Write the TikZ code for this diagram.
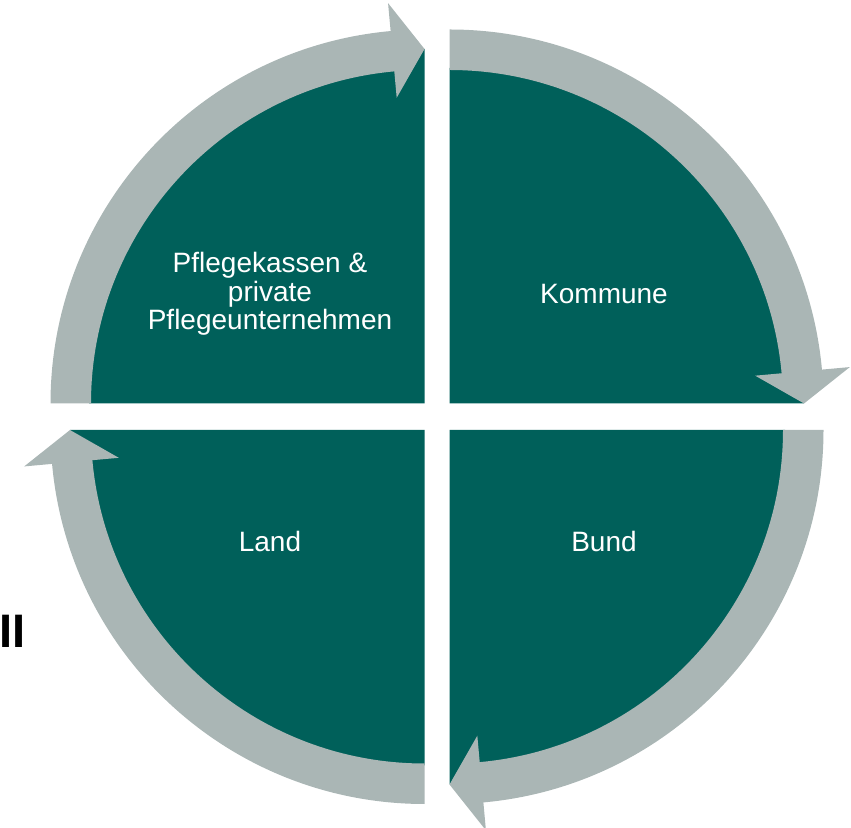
\documentclass[tikz,border=0pt]{standalone}
\usepackage{fontspec}
\setmainfont{Liberation Sans}
\usepackage{tikz}
\definecolor{sectorgreen}{RGB}{0,96,90}
\definecolor{arrowgrey}{RGB}{170,182,181}

\begin{document}
\begin{tikzpicture}[x=1pt,y=1pt,
  quarter/.style={fill=sectorgreen},
  cyclearrow/.style={fill=arrowgrey},
  sectortext/.style={text=white,align=center,inner sep=0pt,
    font=\fontsize{28}{28.5}\selectfont}]
  \useasboundingbox (0,0) rectangle (851,827);
  \def\rin{333.5}
  \def\rout{374}
  \def\rhin{307}
  \def\rhout{402}
  \def\rtip{354.5}
  \def\d{5.2}
  \foreach \cx/\cy/\a in {424.5/423.5/180, 449.5/423.5/90, 449.5/397/0, 424.5/397/270} {
    \begin{scope}[shift={(\cx,\cy)}]
      \fill[quarter] (0,0) -- (\a:\rin+2)
        arc[start angle=\a, delta angle=-90+\d, radius=\rin+2]
        -- (\a-90:\rtip) -- cycle;
      \fill[cyclearrow] (\a:\rin)
        arc[start angle=\a, delta angle=-90+\d, radius=\rin]
        -- (\a-90+\d:\rhin) -- (\a-90:\rtip) -- (\a-90+\d:\rhout)
        -- (\a-90+\d:\rout)
        arc[start angle=\a-90+\d, delta angle=90-\d, radius=\rout] -- cycle;
    \end{scope}
  }
  \node[sectortext] (pflege) at (270,533) {Pflegekassen \&\\private\\Pflegeunternehmen};
  \node[sectortext] (kommune) at (604,533) {Kommune};
  \node[sectortext] (land) at (270,286) {Land};
  \node[sectortext] (bund) at (604,286) {Bund};
  \node[anchor=base west,inner sep=0pt,font=\fontsize{47}{47}\selectfont\bfseries] (rest) at (-1,179) {II};
\end{tikzpicture}
\end{document}
